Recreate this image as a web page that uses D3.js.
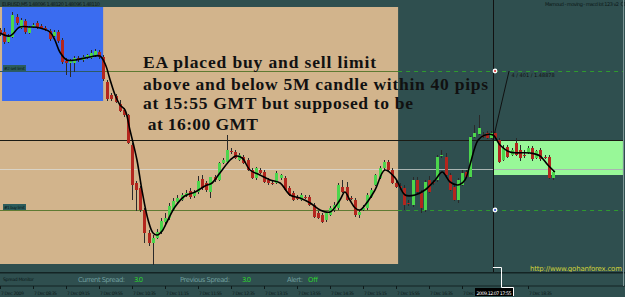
<!DOCTYPE html>
<html>
<head>
<meta charset="utf-8">
<script src="https://cdn.jsdelivr.net/npm/d3@7"></script>
<style>
  body { margin: 0; background: #2f4f4f; }
  svg { display: block; }
</style>
</head>
<body>
<div id="chart"></div>
<script>
// EURUSD M5, 7 Dec 2009, bar 0 = 07:55. rows are [open, high, low, close]
const bars = [
  [1.49196,1.49212,1.49148,1.49164],[1.49180,1.49212,1.49084,1.49100],[1.49100,1.49164,1.49092,1.49140],
  [1.49140,1.49340,1.49132,1.49316],[1.49300,1.49324,1.49236,1.49252],[1.49212,1.49292,1.49204,1.49276],
  [1.49268,1.49284,1.49164,1.49180],[1.49172,1.49228,1.49164,1.49220],[1.49220,1.49252,1.49212,1.49236],
  [1.49252,1.49268,1.49204,1.49212],[1.49228,1.49244,1.49204,1.49212],[1.49212,1.49228,1.49188,1.49204],
  [1.49188,1.49204,1.49108,1.49124],[1.49148,1.49196,1.49140,1.49180],[1.49180,1.49196,1.49092,1.49108],
  [1.49116,1.49132,1.48924,1.48940],[1.48948,1.48972,1.48836,1.48932],[1.48932,1.48964,1.48820,1.48948],
  [1.48932,1.48988,1.48860,1.48972],[1.48972,1.48988,1.48940,1.48956],[1.48956,1.48996,1.48940,1.48980],
  [1.48972,1.49004,1.48964,1.48996],[1.48972,1.49036,1.48964,1.49012],[1.48988,1.49044,1.48980,1.49028],
  [1.49020,1.49036,1.48964,1.48980],[1.48980,1.48996,1.48788,1.48804],[1.48780,1.48796,1.48628,1.48644],
  [1.48676,1.48692,1.48628,1.48644],[1.48668,1.48684,1.48612,1.48620],[1.48604,1.48636,1.48540,1.48548],
  [1.48556,1.48572,1.48500,1.48516],[1.48516,1.48524,1.48284,1.48292],[1.48276,1.48292,1.47836,1.47956],
  [1.47972,1.47988,1.47748,1.47916],[1.47932,1.47948,1.47740,1.47756],[1.47756,1.47772,1.47492,1.47572],
  [1.47572,1.47596,1.47468,1.47492],[1.47492,1.47556,1.47316,1.47532],[1.47532,1.47604,1.47524,1.47580],
  [1.47580,1.47692,1.47564,1.47668],[1.47660,1.47732,1.47644,1.47692],[1.47692,1.47812,1.47676,1.47788],
  [1.47756,1.47852,1.47748,1.47828],[1.47820,1.47876,1.47812,1.47852],[1.47836,1.47892,1.47828,1.47876],
  [1.47868,1.47916,1.47860,1.47892],[1.47908,1.47932,1.47844,1.47860],[1.47868,1.47916,1.47852,1.47900],
  [1.47900,1.48028,1.47884,1.47988],[1.48004,1.48036,1.47916,1.47932],[1.47972,1.47988,1.47900,1.47916],
  [1.47900,1.48020,1.47852,1.48020],[1.48020,1.48036,1.47980,1.47996],[1.47996,1.48140,1.47988,1.48132],
  [1.48132,1.48172,1.48124,1.48156],[1.48140,1.48356,1.48132,1.48236],[1.48228,1.48252,1.48204,1.48220],
  [1.48220,1.48236,1.48164,1.48172],[1.48156,1.48212,1.48148,1.48196],[1.48180,1.48196,1.48124,1.48132],
  [1.48156,1.48172,1.48068,1.48076],[1.48076,1.48092,1.48004,1.48012],[1.48012,1.48100,1.47996,1.48092],
  [1.48076,1.48092,1.48044,1.48052],[1.48060,1.48076,1.47972,1.47980],[1.47996,1.48012,1.47956,1.47972],
  [1.47972,1.47988,1.47956,1.47964],[1.47972,1.48068,1.47964,1.48052],[1.48012,1.48044,1.47996,1.48036],
  [1.48012,1.48028,1.47908,1.47916],[1.47932,1.47948,1.47868,1.47876],[1.47892,1.47908,1.47828,1.47836],
  [1.47860,1.47876,1.47836,1.47844],[1.47836,1.47892,1.47828,1.47876],[1.47860,1.47876,1.47844,1.47852],
  [1.47860,1.47876,1.47788,1.47796],[1.47796,1.47812,1.47692,1.47700],[1.47732,1.47748,1.47684,1.47692],
  [1.47716,1.47732,1.47652,1.47660],[1.47676,1.47740,1.47660,1.47732],[1.47716,1.47788,1.47708,1.47772],
  [1.47756,1.47820,1.47740,1.47796],[1.47772,1.47972,1.47756,1.47956],[1.47940,1.47996,1.47892,1.47900],
  [1.47940,1.47980,1.47828,1.47836],[1.47852,1.47868,1.47836,1.47844],[1.47836,1.47852,1.47700,1.47716],
  [1.47716,1.47756,1.47692,1.47740],[1.47756,1.47796,1.47748,1.47772],[1.47772,1.47892,1.47756,1.47876],
  [1.47860,1.47932,1.47852,1.47916],[1.47956,1.48044,1.47948,1.48036],[1.48012,1.48108,1.48004,1.48092],
  [1.48092,1.48156,1.48076,1.48140],[1.48140,1.48156,1.48068,1.48076],[1.48076,1.48092,1.47964,1.47972],
  [1.47972,1.47988,1.47932,1.47940],[1.47948,1.47972,1.47916,1.47932],[1.47932,1.47956,1.47756,1.47796],
  [1.47812,1.47836,1.47788,1.47804],[1.47796,1.48020,1.47780,1.47996],[1.47996,1.48020,1.47892,1.47900],
  [1.47892,1.47916,1.47732,1.47772],[1.47756,1.47996,1.47740,1.47980],[1.47996,1.48028,1.47892,1.47900],
  [1.47980,1.47996,1.47956,1.47972],[1.47996,1.48196,1.47980,1.48180],[1.48188,1.48236,1.48172,1.48196],
  [1.48180,1.48212,1.48028,1.48036],[1.48036,1.48052,1.47908,1.47916],[1.47940,1.47956,1.47828,1.47836],
  [1.47836,1.48012,1.47812,1.47996],[1.47956,1.48076,1.47948,1.48052],[1.48060,1.48076,1.48012,1.48020],
  [1.48020,1.48348,1.48012,1.48340],[1.48340,1.48436,1.48332,1.48372],[1.48364,1.48516,1.48356,1.48412],
  [1.48356,1.48380,1.48332,1.48340],[1.48372,1.48388,1.48324,1.48332],[1.48332,1.48388,1.48324,1.48372],
  [1.48372,1.48388,1.48324,1.48332],[1.48316,1.48332,1.48132,1.48140],[1.48156,1.48276,1.48148,1.48252],
  [1.48260,1.48276,1.48172,1.48180],[1.48196,1.48252,1.48188,1.48236],[1.48292,1.48332,1.48188,1.48196],
  [1.48236,1.48276,1.48148,1.48172],[1.48196,1.48236,1.48172,1.48188],[1.48212,1.48268,1.48204,1.48252],
  [1.48252,1.48268,1.48148,1.48164],[1.48172,1.48236,1.48164,1.48228],[1.48236,1.48252,1.48148,1.48164],
  [1.48180,1.48196,1.48164,1.48172],[1.48180,1.48196,1.48004,1.48012],[1.48012,1.48076,1.47996,1.48060]
]

// moving average: [bar, price]
const maPoints = [
  [0,1.49172],[2.4,1.49148],[4.8,1.49220],[7.3,1.49220],[9.7,1.49212],[12.1,1.49180],[13.3,1.49116],
  [14.5,1.49020],[16.2,1.48956],[18.2,1.48956],[21.8,1.48980],[24.2,1.48988],[25.5,1.48924],[26.7,1.48796],
  [27.9,1.48676],[29.1,1.48596],[30.3,1.48556],[31.5,1.48396],[33.2,1.48156],[34.4,1.47916],[35.9,1.47676],
  [37.1,1.47572],[38.1,1.47556],[39.3,1.47588],[40.7,1.47676],[42.4,1.47780],[44.8,1.47868],[47.3,1.47900],
  [49.7,1.47948],[51.4,1.47972],[53.3,1.48052],[55.8,1.48156],[57.2,1.48188],[58.7,1.48172],[60.6,1.48076],
  [63.0,1.48036],[65.5,1.47996],[67.9,1.47972],[70.3,1.47876],[72.7,1.47852],[75.2,1.47812],[77.6,1.47756],
  [80.0,1.47740],[82.4,1.47836],[83.6,1.47900],[84.8,1.47836],[86.1,1.47772],[87.3,1.47756],[88.5,1.47796],
  [90.9,1.47916],[93.3,1.48076],[95.8,1.48012],[98.2,1.47876],[100.6,1.47876],[103.0,1.47916],[105.5,1.47996],
  [107.2,1.48060],[109.1,1.47980],[111.0,1.47956],[112.7,1.47996],[113.9,1.48116],[115.9,1.48316],
  [117.6,1.48356],[119.5,1.48356],[121.2,1.48276],[123.6,1.48220],[128.5,1.48212],[130.9,1.48188],
  [132.8,1.48116],[134.5,1.48060]
]

const timeLabels = ['7 Dec 2009','7 Dec 08:35','7 Dec 09:15','7 Dec 09:55','7 Dec 10:35','7 Dec 11:15',
  '7 Dec 11:55','7 Dec 12:35','7 Dec 13:15','7 Dec 13:55','7 Dec 14:35','7 Dec 15:15','7 Dec 15:55',
  '7 Dec 16:35','7 Dec 17:15','7 Dec 17:55','7 Dec 18:35']
const currentBar = 120
const currentTime = '2009.12.07 17:55'

// drawn objects: [barFrom, barTo, priceTop, priceBottom]
const tanBox = [-0.5, 96.5, 1.49380, 1.47324]
const blueBox = [0.5, 25, 1.49380, 1.48628]
const greenBox = [119.5, 151, 1.48316, 1.48036]

const sellLimit = 1.48868
const buyLimit = 1.47756
const candleLevel = 1.48316
const bidLevel = 1.48084
const trendLine = [[119.5, 1.48316], [123.4, 1.48868]]

const noteLines = ['EA placed buy and sell limit', 'above and below 5M candle within 40 pips',
  'at 15:55 GMT but supposed to be', ' at 16:00 GMT']

const spread = {current: '3.0', previous: '3.0', alert: 'Off'}

const W = 625, H = 297
const svg = d3.select('#chart').append('svg')
  .attr('width', W).attr('height', H)
  .style('font-family', 'DejaVu Sans')

svg.append('rect').attr('width', W).attr('height', H).attr('fill', '#2f4f4f')

const x = d3.scaleLinear().domain([0, 151.5]).range([0, 625])
const y = d3.scaleLinear().domain([1.47316, 1.49380]).range([265, 7])

svg.append('clipPath').attr('id', 'clipMain')
  .append('rect').attr('x', 0).attr('y', 0).attr('width', 623).attr('height', 272)
const main = svg.append('g').attr('clip-path', 'url(#clipMain)')

// boxes
const box = (b, fill) => main.append('rect')
  .attr('x', Math.max(0, x(b[0]))).attr('y', y(b[2]))
  .attr('width', x(b[1]) - Math.max(0, x(b[0]))).attr('height', y(b[3]) - y(b[2]))
  .attr('fill', fill)
box(tanBox, '#d2b48c')
box(blueBox, '#3a6cf0')
box(greenBox, '#98f898')

// horizontal levels, split where the colour changes over the boxes
const hline = (p, x1, x2, color, dash) => main.append('line')
  .attr('x1', x1).attr('x2', x2)
  .attr('y1', Math.round(y(p)) + 0.5).attr('y2', Math.round(y(p)) + 0.5)
  .attr('stroke', color).attr('stroke-width', 1)
  .attr('stroke-dasharray', dash || null)

const tanR = x(tanBox[1]), blueR = x(blueBox[1])
;[sellLimit, buyLimit].forEach(p => {
  const inBlue = p >= blueBox[3]
  hline(p, 0, inBlue ? blueR : 0, '#2c5a66')
  hline(p, inBlue ? blueR : 0, tanR, '#5e7a32')
  hline(p, tanR, 623, '#2f9a2f', '4,4')
})
hline(bidLevel, 0, tanR, '#d9d3c6')
hline(bidLevel, tanR, 623, '#a9b4b2')
hline(candleLevel, 0, 623, '#1b1b14')

// vertical line at the current bar
main.append('line')
  .attr('x1', Math.round(x(119.5)) + 0.5).attr('x2', Math.round(x(119.5)) + 0.5)
  .attr('y1', 0).attr('y2', 272).attr('stroke', '#111').attr('stroke-width', 1)

// trend line
main.append('line')
  .attr('x1', x(trendLine[0][0])).attr('y1', y(trendLine[0][1]))
  .attr('x2', x(trendLine[1][0])).attr('y2', y(trendLine[1][1]))
  .attr('stroke', '#111').attr('stroke-width', 1)
main.append('text')
  .attr('x', x(trendLine[1][0]) + 2.5).attr('y', y(trendLine[1][1]) + 6)
  .attr('font-size', 5).attr('fill', '#111')
  .text('4 / 401 / 1.48878')

// candles
const candle = main.selectAll('g.candle')
  .data(bars)
  .enter()
  .append('g')
  .attr('class', 'candle')

candle.append('line')
  .attr('x1', (d, i) => Math.round(x(i)) + 0.5)
  .attr('x2', (d, i) => Math.round(x(i)) + 0.5)
  .attr('y1', d => y(d[1]))
  .attr('y2', d => y(d[2]))
  .attr('stroke', '#2a2a2a')
  .attr('stroke-width', 1)

candle.append('rect')
  .attr('x', (d, i) => Math.round(x(i)) - 1)
  .attr('width', 3)
  .attr('y', d => y(Math.max(d[0], d[3])))
  .attr('height', d => Math.max(1, Math.abs(y(d[0]) - y(d[3]))))
  .attr('fill', d => d[3] >= d[0] ? '#4cd64c' : '#b3261e')

// moving average
main.append('path')
  .datum(maPoints)
  .attr('d', d3.line().x(d => x(d[0])).y(d => y(d[1])).curve(d3.curveCatmullRom.alpha(0.5)))
  .attr('fill', 'none')
  .attr('stroke', '#000')
  .attr('stroke-width', 1.6)

// order markers on the current bar
;[[sellLimit, '#d83030'], [buyLimit, '#3050d8']].forEach(([p, c]) => {
  main.append('circle').attr('cx', x(currentBar)).attr('cy', y(p)).attr('r', 2.4)
    .attr('fill', '#fff')
  main.append('circle').attr('cx', x(currentBar)).attr('cy', y(p)).attr('r', 1.1)
    .attr('fill', c)
})

// order labels
;[['#2 sell limit', sellLimit], ['#1 buy limit', buyLimit]].forEach(([t, p]) => {
  main.append('rect').attr('x', 3).attr('y', y(p) - 6).attr('width', 23).attr('height', 6)
    .attr('fill', '#2c5c5c')
  main.append('text').attr('x', 4).attr('y', y(p) - 1.5)
    .attr('font-size', 4.2).attr('fill', '#0b1a1a').attr('textLength', 21)
    .text(t)
})

// annotation
const notePos = [[143, 68, 233], [143, 90, 345], [143, 109, 270], [143, 130, 115]]
noteLines.forEach((t, i) => {
  main.append('text')
    .attr('x', notePos[i][0]).attr('y', notePos[i][1])
    .attr('textLength', notePos[i][2]).attr('lengthAdjust', 'spacing')
    .attr('font-family', 'Liberation Serif')
    .attr('font-size', 17.5)
    .attr('font-weight', 'bold')
    .attr('fill', '#111')
    .style('white-space', 'pre')
    .text(t)
})

// header texts
svg.append('text').attr('x', 2).attr('y', 5.5)
  .attr('font-size', 5).attr('fill', '#0e1a1a').attr('textLength', 98)
  .text('EURUSD,M5 1.48096 1.48120 1.48096 1.48110')
svg.append('text').attr('x', 545).attr('y', 6)
  .attr('font-size', 5).attr('fill', '#0e1a1a').attr('textLength', 74)
  .text('Mamoud - moving - macd lot 123 v2')
svg.append('circle').attr('cx', 623).attr('cy', 4).attr('r', 2)
  .attr('fill', 'none').attr('stroke', '#0e1a1a').attr('stroke-width', 0.6)

svg.append('text').attr('x', 530).attr('y', 270.5)
  .attr('font-size', 7).attr('fill', '#cfd23a').attr('textLength', 92)
  .text('http://www.gohanforex.com')

// window separators and price scale edge
svg.append('rect').attr('x', 0).attr('y', 272).attr('width', W).attr('height', 1.5).attr('fill', '#142424')
svg.append('rect').attr('x', 0).attr('y', 285.5).attr('width', W).attr('height', 1).attr('fill', '#142424')
svg.append('line').attr('x1', 623.5).attr('x2', 623.5).attr('y1', 0).attr('y2', 286)
  .attr('stroke', '#7d9696').attr('stroke-width', 1)

// spread monitor sub window
const sp = svg.append('g').attr('font-size', 6.8)
sp.append('text').attr('x', 3).attr('y', 281).attr('font-size', 4.6).attr('fill', '#0e1a1a')
  .attr('textLength', 31).text('Spread Monitor')
const spItems = [
  ['Current Spread:', 78, 47, '#6f9e9e'], [spread.current, 134, 9, '#2ed42e'],
  ['Previous Spread:', 180, 50, '#6f9e9e'], [spread.previous, 242, 9, '#2ed42e'],
  ['Alert:', 287, 16, '#6f9e9e'], [spread.alert, 308, 10, '#2ed42e']
]
spItems.forEach(([t, px, len, c]) => {
  sp.append('text').attr('x', px).attr('y', 282).attr('fill', c)
    .attr('textLength', len).text(t)
})

// time axis; the label under the current-time box is hidden by it
const boxL = Math.round(x(currentBar)) - 20
const ax = svg.append('g')
timeLabels.forEach((t, k) => {
  const px = Math.round(x(k * 8)) + 0.5
  if (px > boxL - 2 && px < boxL + 40) return
  const cut = px < boxL && px + 24 > boxL
  ax.append('line').attr('x1', px).attr('x2', px).attr('y1', 286).attr('y2', 289)
    .attr('stroke', '#0e1a1a').attr('stroke-width', 1)
  ax.append('text').attr('x', px + 0.5).attr('y', 295)
    .attr('font-size', 4.6).attr('fill', '#0e1a1a')
    .attr('textLength', cut ? boxL - px - 1.5 : 23)
    .text(cut ? t.slice(0, 6) : t)
})

// current time box on the axis
ax.append('rect').attr('x', boxL).attr('y', 288).attr('width', 38).attr('height', 8).attr('fill', '#000')
ax.append('text').attr('x', boxL + 1.5).attr('y', 294.5).attr('font-size', 4.8).attr('fill', '#fff')
  .attr('textLength', 35).text(currentTime)
ax.append('path')
  .attr('d', `M${boxL + 18},267.5H${boxL + 26.5}V287.5H${boxL + 38.5}V296`)
  .attr('fill', 'none').attr('stroke', '#fff').attr('stroke-width', 1)
</script>
</body>
</html>
